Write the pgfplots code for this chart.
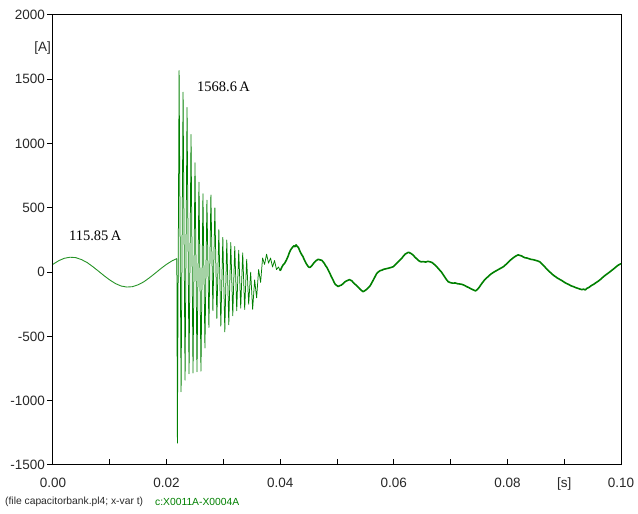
\documentclass[border=0pt]{standalone}
\usepackage{pgfplots}
\pgfplotsset{compat=1.18}
\usepackage{fontspec}
\setmainfont{Liberation Sans}
\newfontfamily\seriffont{Liberation Serif}
\definecolor{trace}{RGB}{0,128,0}
\definecolor{lbl}{RGB}{40,40,40}
\begin{document}
\begin{tikzpicture}
\begin{axis}[
  scale only axis, width=568bp, height=450bp,
  xmin=0, xmax=0.1, ymin=-1500, ymax=2000,
  axis line style={black, line width=1bp},
  xtick={0,0.01,0.02,0.03,0.04,0.05,0.06,0.07,0.08,0.09,0.1},
  xticklabels={0.00,,0.02,,0.04,,0.06,,0.08,{[s]},0.10},
  ytick={-1500,-1000,-500,0,500,1000,1500,2000},
  yticklabels={-1500,-1000,-500,0,500,1000,1500,2000},
  xtick pos=bottom, ytick pos=left,
  tick align=outside,
  major tick length=6bp,
  every tick/.style={black, line width=1bp},
  x tick style={yshift=6bp},
  tick label style={font=\fontsize{13.5bp}{15bp}\selectfont, text=lbl, inner sep=2bp},
  xticklabel style={yshift=-5bp},
  clip=false,
]
\coordinate (O) at (rel axis cs:0,0);
% pre-switching 50 Hz current
\addplot[color=trace!85!white, line width=0.9bp, line join=round] coordinates {
(0.000,61) (0.001,89) (0.002,108) (0.003,116) (0.004,113) (0.005,98) (0.006,75)
(0.007,43) (0.008,8) (0.009,-28) (0.010,-61) (0.011,-89) (0.012,-108) (0.013,-116)
(0.014,-113) (0.015,-98) (0.016,-75) (0.017,-43) (0.018,-8) (0.019,28) (0.020,61)
(0.021,89) (0.0218,105)
};
% inrush oscillation
\addplot[color=trace, line width=0.75bp, line join=round] coordinates {
(0.0218,105) (0.0219,-1330) (0.0222,1568) (0.02255,-930) (0.0229,1400) (0.02325,-840)
(0.0236,1280) (0.02395,-790) (0.0243,1070) (0.02465,-785) (0.0250,850) (0.02535,-775)
(0.0257,700) (0.02605,-770) (0.0264,610) (0.02675,-590) (0.0271,560) (0.02745,-430)
(0.0278,600) (0.02815,-300) (0.0285,500) (0.02885,-360) (0.0292,330) (0.02955,-420)
(0.0299,270) (0.03025,-465) (0.0306,250) (0.03095,-410) (0.0313,230) (0.03165,-340)
(0.0320,200) (0.03235,-300) (0.0327,170) (0.03305,-280) (0.0334,150) (0.03375,-290)
(0.0341,100) (0.03445,-250) (0.0348,0) (0.03515,-290) (0.0355,-60) (0.03585,-200)
(0.0362,20) (0.03655,-80) (0.0369,110) (0.03725,60) (0.0376,140) (0.03795,70)
(0.0383,110) (0.03865,40) (0.0390,90) (0.03935,20) (0.0397,40) (0.0400,10)
};
% after the inrush
\addplot[color=trace, line width=1.6bp, line join=round] coordinates {
(0.0400,10) (0.0403,40) (0.0405,55) (0.0408,70) (0.0411,95) (0.0414,125) (0.0416,150)
(0.0418,170) (0.0420,184) (0.0422,195) (0.0424,205) (0.0426,198) (0.0428,212) (0.0430,200)
(0.0432,192) (0.0435,160) (0.0438,135) (0.0440,122) (0.0442,100) (0.0444,82) (0.0446,65)
(0.0448,52) (0.0450,40) (0.0452,36) (0.0454,42) (0.0456,52) (0.0459,70) (0.0462,85)
(0.0464,92) (0.0467,100) (0.0470,95) (0.0473,93) (0.0476,78) (0.0478,66) (0.0480,50)
(0.0482,38) (0.0485,12) (0.0488,-15) (0.0490,-35) (0.0493,-60) (0.0495,-80) (0.0497,-95)
(0.0500,-105) (0.0502,-112) (0.0505,-105) (0.0508,-100) (0.0511,-88) (0.0513,-80) (0.0515,-72)
(0.0517,-68) (0.0520,-62) (0.0522,-58) (0.0524,-64) (0.0526,-66) (0.0528,-78) (0.0530,-86)
(0.0532,-95) (0.0534,-102) (0.0537,-115) (0.0540,-130) (0.0543,-142) (0.0546,-152) (0.0549,-144)
(0.0552,-135) (0.0555,-122) (0.0558,-108) (0.0561,-85) (0.0564,-60) (0.0567,-35) (0.0570,-10)
(0.0573,2) (0.0576,12) (0.0579,15) (0.0582,22) (0.0586,26) (0.0590,30) (0.0594,35)
(0.0599,42) (0.0602,55) (0.0606,72) (0.0610,90) (0.0614,108) (0.0617,125) (0.0620,140)
(0.0623,148) (0.0626,155) (0.0628,150) (0.0630,146) (0.0632,140) (0.0634,132) (0.0637,118)
(0.0640,105) (0.0643,92) (0.0645,86) (0.0648,80) (0.0652,82) (0.0656,78) (0.0660,84)
(0.0664,80) (0.0667,76) (0.0670,65) (0.0672,58) (0.0674,50) (0.0676,40) (0.0680,20)
(0.0684,0) (0.0687,-20) (0.0690,-40) (0.0693,-60) (0.0696,-75) (0.0700,-82) (0.0704,-86)
(0.0708,-84) (0.0712,-90) (0.0716,-92) (0.0720,-95) (0.0724,-102) (0.0728,-112) (0.0732,-120)
(0.0736,-130) (0.0740,-138) (0.0744,-146) (0.0747,-135) (0.0750,-120) (0.0753,-100) (0.0756,-82)
(0.0759,-65) (0.0762,-50) (0.0766,-35) (0.0769,-22) (0.0772,-12) (0.0776,0) (0.0780,10)
(0.0784,20) (0.0788,30) (0.0793,42) (0.0797,58) (0.0800,70) (0.0804,88) (0.0807,100)
(0.0810,110) (0.0813,120) (0.0816,128) (0.0819,134) (0.0822,130) (0.0825,126) (0.0828,118)
(0.0831,112) (0.0834,110) (0.0837,106) (0.0841,100) (0.0845,97) (0.0848,94) (0.0851,90)
(0.0854,86) (0.0857,80) (0.0860,68) (0.0863,55) (0.0866,40) (0.0869,26) (0.0872,12)
(0.0875,0) (0.0878,-12) (0.0881,-24) (0.0885,-36) (0.0888,-46) (0.0892,-56) (0.0896,-66)
(0.0900,-78) (0.0904,-88) (0.0908,-96) (0.0912,-106) (0.0916,-112) (0.0920,-120) (0.0924,-126)
(0.0928,-132) (0.0931,-136) (0.0934,-132) (0.0937,-138) (0.0940,-126) (0.0943,-120) (0.0945,-114)
(0.0948,-104) (0.0952,-94) (0.0956,-82) (0.0960,-70) (0.0964,-56) (0.0969,-36) (0.0973,-22)
(0.0978,-6) (0.0982,8) (0.0987,25) (0.0991,40) (0.0995,54) (0.1000,66)
};
\node[anchor=west, font=\seriffont\fontsize{14.5bp}{16bp}\selectfont, inner sep=0pt] at (axis cs:0.02535,1440) {1568.6\,A};
\node[anchor=west, font=\seriffont\fontsize{14.5bp}{16bp}\selectfont, inner sep=0pt] at (axis cs:0.0028,280) {115.85\,A};
\node[anchor=east, font=\fontsize{13.5bp}{15bp}\selectfont, text=lbl, inner sep=0pt] at ([xshift=-2bp]axis cs:0,1740) {[A]};
\end{axis}
\node[anchor=west, font=\fontsize{10.3bp}{12bp}\selectfont, text=lbl, inner sep=0pt] at ([xshift=-48bp,yshift=-37bp]O) {(file capacitorbank.pl4; x-var t)};
\node[anchor=west, font=\fontsize{10.3bp}{12bp}\selectfont, text=trace, inner sep=0pt] at ([xshift=102bp,yshift=-37bp]O) {c:X0011A-X0004A};
\pgfresetboundingbox
\path (O) ++(-53bp,-49bp) rectangle ++(638bp,514bp);
\end{tikzpicture}
\end{document}
